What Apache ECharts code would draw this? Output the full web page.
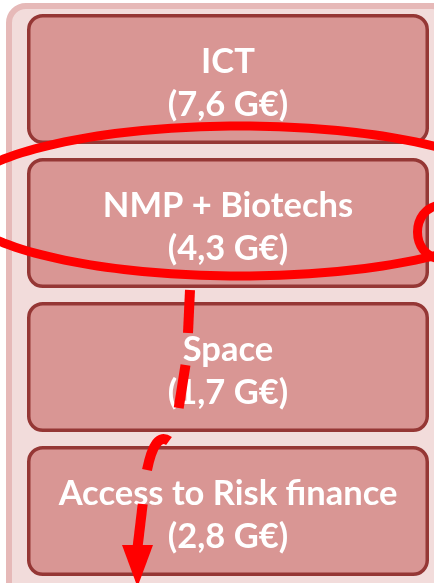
<!DOCTYPE html>
<html>
<head>
<meta charset="utf-8">
<script src="https://cdn.jsdelivr.net/npm/echarts@6/dist/echarts.min.js"></script>
<style>
  html, body { margin: 0; padding: 0; background: #fff; }
  #myChart { width: 434px; height: 583px; }
</style>
</head>
<body>
<div id="myChart"></div>
<script>
  // programme lines and their budgets (G€), top to bottom
  const categories = ['ICT', 'NMP + Biotechs', 'Space', 'Access to Risk finance'];
  const budgets = [7.6, 4.3, 1.7, 2.8];
  // the line circled by hand, with the dashed arrow running down from it
  const highlighted = 'NMP + Biotechs';

  const RED = '#ff0000';

  function fmt(v) {
    return '(' + v.toFixed(1).replace('.', ',') + ' G€)';
  }

  // ellipse + curl + dashed arrow, relative to the centre of the circled box
  function annotations(cx, cy) {
    const ex = cx + 12, ey = cy - 22, rx = 285, ry = 75;
    const pts = [];
    for (let a = 38; a <= 322; a += 2) {
      const t = a * Math.PI / 180;
      pts.push([ex + rx * Math.cos(t), ey - ry * Math.sin(t)]);
    }
    const stroke = { stroke: RED, fill: null, lineWidth: 9, lineCap: 'round' };
    const dash = { stroke: RED, fill: null, lineWidth: 10, lineCap: 'butt' };
    return [
      { type: 'polyline', z2: 20, shape: { points: pts }, style: stroke },
      { type: 'bezierCurve', z2: 20,
        shape: { x1: cx + 212, y1: cy + 36, cpx1: cx + 182, cpy1: cy + 32,
                 cpx2: cx + 182, cpy2: cy - 14, x2: cx + 212, y2: cy - 18 },
        style: stroke },
      { type: 'line', z2: 20, shape: { x1: cx - 38, y1: cy + 67, x2: cx - 40, y2: cy + 110 }, style: dash },
      { type: 'line', z2: 20, shape: { x1: cx - 42.5, y1: cy + 142, x2: cx - 49.3, y2: cy + 185 }, style: dash },
      { type: 'bezierCurve', z2: 20,
        shape: { x1: cx - 59, y1: cy + 218, cpx1: cx - 73, cpy1: cy + 208, x2: cx - 81, y2: cy + 247 },
        style: dash },
      { type: 'line', z2: 20, shape: { x1: cx - 85.3, y1: cy + 281, x2: cx - 90.3, y2: cy + 323 }, style: dash },
      { type: 'polygon', z2: 20,
        shape: { points: [[cx - 106, cy + 322], [cx - 75, cy + 322], [cx - 90.5, cy + 364]] },
        style: { fill: RED } }
    ];
  }

  const myChart = echarts.init(document.getElementById('myChart'));
  myChart.setOption({
    animation: false,
    graphic: [{
      type: 'rect', z: 0,
      shape: { x: 9, y: 6, width: 440, height: 600, r: 17 },
      style: { fill: '#f2dcdb', stroke: '#e6b9b8', lineWidth: 6 }
    }],
    grid: { left: 27, right: 5, top: 7, height: 584 },
    xAxis: { type: 'value', min: 0, max: 1, show: false },
    yAxis: { type: 'category', data: categories, inverse: true, show: false },
    series: [{
      type: 'custom',
      z: 5,
      data: budgets.map((v, i) => [i, v]),
      renderItem(params, api) {
        const cs = params.coordSys;
        const i = api.value(0);
        const mid = api.coord([0, i])[1];
        const band = api.size([0, 1])[1];
        const sw = 3.5;
        const h = band - 14;
        const cx = cs.x + cs.width / 2;
        const children = [{
          type: 'rect',
          shape: { x: cs.x + sw / 2, y: mid - h / 2 + sw / 2, width: cs.width - sw, height: h - sw, r: 14 },
          style: { fill: '#d99694', stroke: '#953735', lineWidth: sw }
        }, {
          type: 'text',
          z2: 5,
          style: {
            x: cx, y: mid + 4,
            text: categories[i] + '\n' + fmt(api.value(1)),
            align: 'center', verticalAlign: 'middle',
            font: 'bold 34.5px Lato', lineHeight: 43, fill: '#ffffff'
          }
        }];
        if (categories[i] === highlighted) {
          children.push(...annotations(cx, mid));
        }
        return { type: 'group', children: children };
      }
    }]
  });
</script>
</body>
</html>
